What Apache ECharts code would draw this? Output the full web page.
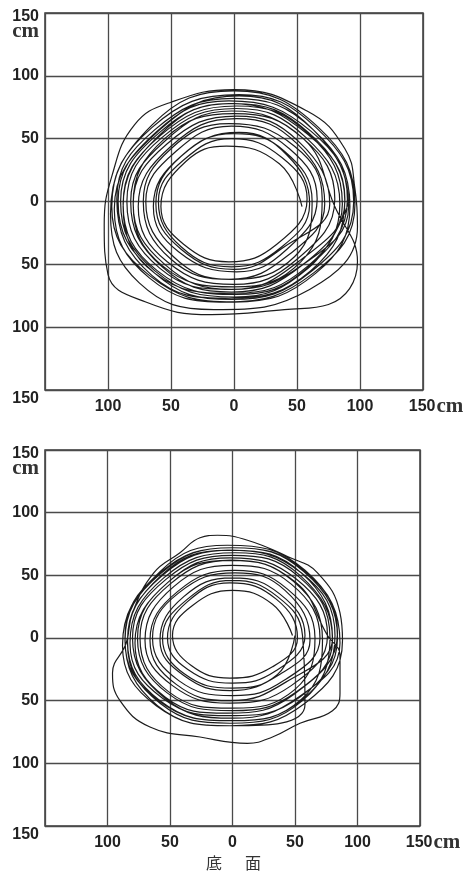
<!DOCTYPE html>
<html>
<head>
<meta charset="utf-8">
<script src="https://cdn.jsdelivr.net/npm/echarts@6/dist/echarts.min.js"></script>
<style>
html,body{margin:0;padding:0;background:#fff;}
#c{width:467px;height:873px;}
</style>
</head>
<body>
<div id="c"></div>
<script>
// Axis ticks (cm)
const xTicks = [-150, -100, -50, 0, 50, 100, 150];
const yTicks = [-150, -100, -50, 0, 50, 100, 150];
const caption = ['底', '面'];

// Upper panel: traced loops [x, y] in cm
const upperLoops = [
  [[54,-4],[36,30],[-6,44],[-38,32],[-58,-4],[-40,-34],[-4,-48],[34,-34]],
  [[58,2],[38,35],[-2,50],[-40,33],[-60,0],[-42,-36],[-2,-52],[38,-36]],
  [[60,-2],[42,37],[4,55],[-42,36],[-64,-4],[-44,-40],[2,-56],[42,-38]],
  [[66,2],[44,42],[-2,60],[-46,40],[-70,0],[-48,-44],[-4,-62],[44,-42]],
  [[72,-2],[50,46],[2,66],[-50,44],[-76,-4],[-53,-48],[0,-66],[50,-46]],
  [[80,2],[55,50],[-2,72],[-55,48],[-82,0],[-57,-52],[-2,-72],[55,-50]],
  [[86,-2],[59,54],[2,76],[-59,52],[-88,-2],[-61,-55],[2,-74],[58,-53]],
  [[90,2],[61,56],[-4,80],[-61,56],[-92,0],[-63,-57],[-2,-78],[61,-56]],
  [[95,0],[65,59],[4,85],[-65,59],[-97,-4],[-67,-59],[0,-80],[65,-57]],
  [[92,-4],[63,57],[0,82],[-63,57],[-93,2],[-65,-59],[-4,-77],[61,-55]],
  [[88,2],[59,53],[-4,78],[-59,53],[-88,-4],[-63,-57],[0,-73],[59,-51]],
  [[84,-2],[57,51],[2,74],[-57,51],[-85,0],[-59,-53],[-2,-70],[55,-50]],
  [[91,-4],[63,57],[4,84],[-59,57],[-95,-6],[-67,-61],[-6,-80],[63,-57]],
  [[96,-2],[67,59],[0,88],[-65,61],[-98,-10],[-75,-65],[-16,-86],[60,-70]],
  [[98,-20],[96,10],[88,42],[58,72],[0,89],[-50,79],[-79,61],[-97,20],[-103,-19],[-100,-58],[-70,-80],[-18,-90],[40,-86],[75,-82],[98,-48]],
  [[80,-4],[55,50],[0,70],[-55,50],[-80,-2],[-57,-51],[0,-68],[53,-48]],
  [[70,2],[48,44],[-4,62],[-50,42],[-72,0],[-50,-46],[-2,-62],[48,-44]],
  [[62,0],[40,40],[0,54],[-42,36],[-62,-2],[-42,-38],[0,-54],[40,-36]],
  [[76,-2],[51,48],[2,68],[-53,46],[-80,-2],[-55,-50],[-2,-70],[51,-48]],
  [[88,0],[59,55],[0,78],[-59,55],[-90,0],[-63,-55],[0,-76],[59,-53]],
  [[92,2]]
];

// Lower panel (底面): traced loops [x, y] in cm
const lowerLoops = [
  [[48,2],[32,27],[0,38],[-32,26],[-48,2],[-33,-22],[-2,-32],[32,-23]],
  [[52,0],[35,31],[-2,44],[-36,29],[-52,0],[-36,-25],[0,-36],[35,-26]],
  [[58,2],[38,35],[0,48],[-39,33],[-58,-2],[-39,-30],[-2,-42],[38,-29]],
  [[62,-2],[42,38],[2,52],[-43,36],[-64,0],[-43,-34],[0,-46],[41,-34]],
  [[70,0],[47,43],[0,58],[-47,41],[-70,-2],[-48,-38],[-2,-52],[47,-38]],
  [[76,2],[51,47],[-2,64],[-51,45],[-76,0],[-52,-44],[0,-58],[51,-43]],
  [[80,-2],[54,50],[2,68],[-55,48],[-82,-4],[-56,-48],[-2,-62],[54,-47]],
  [[84,0],[57,53],[0,72],[-58,51],[-86,-2],[-59,-50],[0,-66],[56,-49]],
  [[82,2],[55,52],[-4,70],[-57,50],[-84,-4],[-58,-52],[-2,-68],[56,-50]],
  [[78,0],[53,49],[0,66],[-53,47],[-80,0],[-54,-48],[0,-64],[53,-47]],
  [[86,-4],[58,54],[-4,74],[-58,53],[-88,-6],[-61,-54],[-2,-70],[58,-52]],
  [[88,-2],[86,20],[68,52],[44,65],[12,78],[-12,82],[-26,80],[-42,68],[-63,52],[-80,20],[-85,-4],[-96,-28],[-90,-50],[-66,-71],[-26,-79],[12,-84],[32,-79],[54,-68],[80,-58],[86,-44],[86,-14]],
  [[76,2],[50,45],[0,62],[-50,43],[-74,0],[-51,-43],[0,-56],[50,-41]],
  [[66,0],[44,39],[2,54],[-44,37],[-66,-2],[-45,-37],[-2,-50],[43,-35]],
  [[80,0],[55,52],[0,70],[-56,50],[-84,-2],[-58,-50],[0,-66],[55,-49]],
  [[72,-2],[49,45],[-2,62],[-51,45],[-78,-4],[-54,-47],[-4,-60],[49,-45]],
  [[84,4],[57,54],[0,72],[-58,52],[-86,0],[-60,-54],[0,-70],[58,-53]],
  [[56,2],[36,33],[0,46],[-36,31],[-56,0],[-38,-29],[0,-40],[36,-29]],
  [[50,2]]
];

const flatten = loops => loops.reduce((a, l) => a.concat(l), []);

const numFont = "'Liberation Sans Narrow','Liberation Sans',Arial,sans-serif";
const serifFont = "'Liberation Serif','DejaVu Serif',serif";

function xAxisCfg(gi) {
  return {
    type: 'value', gridIndex: gi, min: xTicks[0], max: xTicks[xTicks.length-1], interval: 50,
    axisLine: {show: false}, axisTick: {show: false},
    splitLine: {show: true, lineStyle: {color: '#4a4a4a', width: 1.3}},
    axisLabel: {
      margin: 9, color: '#222', fontFamily: numFont, fontWeight: 'bold', fontSize: 16,
      showMinLabel: true, showMaxLabel: true,
      formatter: v => v === xTicks[0] ? '' : (v === xTicks[xTicks.length-1] ? '{p|}{b|' + Math.abs(v) + '}{c|cm}' : String(Math.abs(v))),
      rich: {
        p: {width: 26},
        b: {fontFamily: numFont, fontWeight: 'bold', fontSize: 16, color: '#222', lineHeight: 16},
        c: {fontFamily: serifFont, fontSize: 21, color: '#333', lineHeight: 16, padding: [0,0,0,1]}
      }
    }
  };
}
function yAxisCfg(gi) {
  return {
    type: 'value', gridIndex: gi, min: yTicks[0], max: yTicks[yTicks.length-1], interval: 50,
    axisLine: {show: false}, axisTick: {show: false},
    splitLine: {show: true, lineStyle: {color: '#4a4a4a', width: 1.3}},
    axisLabel: {
      margin: 6, color: '#222', fontFamily: numFont, fontWeight: 'bold', fontSize: 16,
      showMinLabel: true, showMaxLabel: true,
      formatter: v => {
        if (v === yTicks[yTicks.length-1]) return '{e| }\n{a|' + v + '}\n{c|cm}';
        if (v === yTicks[0]) return '{low|' + Math.abs(v) + '}';
        return String(Math.abs(v));
      },
      rich: {
        e: {fontSize: 10, lineHeight: 24},
        a: {fontFamily: numFont, fontWeight: 'bold', fontSize: 16, color: '#222', lineHeight: 14, align: 'right'},
        c: {fontFamily: serifFont, fontSize: 21, color: '#333', lineHeight: 16, align: 'right'},
        low: {fontFamily: numFont, fontWeight: 'bold', fontSize: 16, color: '#222', padding: [18,0,0,0]}
      }
    }
  };
}

const chart = echarts.init(document.getElementById('c'), null, {renderer: 'canvas'});
chart.setOption({
  backgroundColor: '#fff',
  animation: false,
  grid: [
    {left: 45, top: 13, width: 378, height: 377, show: true, borderColor: '#3a3a3a', borderWidth: 1.5, backgroundColor: 'transparent', containLabel: false, outerBoundsMode: 'none'},
    {left: 45, top: 450, width: 375, height: 376, show: true, borderColor: '#3a3a3a', borderWidth: 1.5, backgroundColor: 'transparent', containLabel: false, outerBoundsMode: 'none'}
  ],
  xAxis: [xAxisCfg(0), xAxisCfg(1)],
  yAxis: [yAxisCfg(0), yAxisCfg(1)],
  series: [
    {type: 'line', xAxisIndex: 0, yAxisIndex: 0, data: flatten(upperLoops), smooth: 0.45, showSymbol: false,
     lineStyle: {color: '#1c1c1c', width: 1.2}},
    {type: 'line', xAxisIndex: 1, yAxisIndex: 1, data: flatten(lowerLoops), smooth: 0.45, showSymbol: false,
     lineStyle: {color: '#1c1c1c', width: 1.2}}
  ],
  graphic: [
    {type: 'text', left: 206, top: 855, style: {text: caption[0], font: "16px 'Noto Sans CJK JP'", fill: '#333'}},
    {type: 'text', left: 245, top: 855, style: {text: caption[1], font: "16px 'Noto Sans CJK JP'", fill: '#333'}}
  ]
});
</script>
</body>
</html>
